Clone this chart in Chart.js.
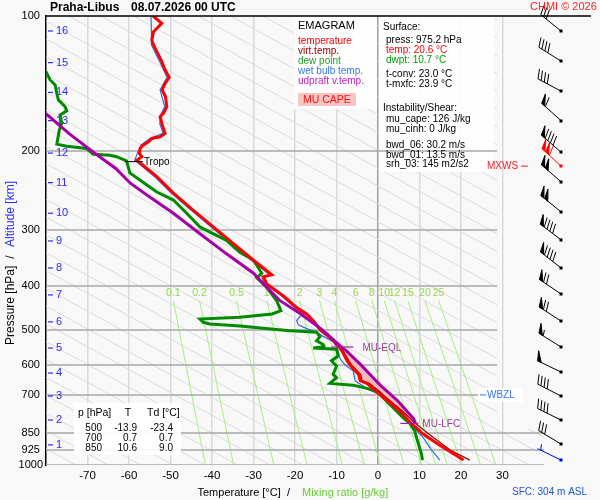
<!DOCTYPE html>
<html>
<head>
<meta charset="utf-8">
<script src="https://cdn.jsdelivr.net/npm/chart.js@4.4.1/dist/chart.umd.min.js"></script>
<style>
  html, body { margin: 0; padding: 0; background: #f8f8f8; }
  #c { display: block; }
</style>
</head>
<body>
<canvas id="c" width="600" height="500"></canvas>
<script>
// Axis ticks
const pressureTicks = [100, 200, 300, 400, 500, 600, 700, 850, 925, 1000];
const altKm = [1, 2, 3, 4, 5, 6, 7, 8, 9, 10, 11, 12, 13, 14, 15, 16];
const altP = [902, 794, 702, 624, 549, 480, 418, 364, 317, 275, 235, 202, 171, 148, 127, 108];

// Temperature profile (hPa, °C)
const tempP = [975.2, 905, 850, 840, 803, 759, 700, 686, 658, 649, 628, 600, 584, 557, 545, 530, 515, 500, 477, 461, 446, 420, 395, 381, 377, 350, 321, 295, 271, 248, 228, 218.6, 209.5, 205.8, 202.3, 197.3, 193.9, 190.6, 187.4, 185.8, 182.6, 173.5, 167.6, 164.8, 159.2, 151.3, 146.1, 141.2, 137, 131.9, 126.4, 122.1, 116, 113.1, 108.4, 103.8, 100];
const tempT = [20.6, 15.0, 10.6, 10.1, 7.7, 5.3, 0.7, -0.3, -2.7, -4.3, -4.7, -6.7, -7.5, -8.7, -9.4, -10.6, -12.2, -13.9, -15.6, -17.2, -19.6, -22.8, -26.8, -27.6, -25.6, -30.0, -34.9, -39.7, -44.5, -49.3, -53.3, -55.7, -58.1, -56.9, -57.5, -57.3, -56.6, -55.3, -54.5, -52.5, -51.3, -52.1, -52.5, -51.7, -50.9, -51.2, -52.0, -51.3, -50.3, -51.3, -52.1, -52.9, -54.1, -54.5, -54.1, -52.1, -54.2];

// Virtual temperature
const virtP = [975.2, 925, 850, 803, 760, 700, 686, 658, 649, 628, 600, 584, 557, 545, 530, 515, 500, 477, 461, 446, 420, 395, 381, 377, 350];
const virtT = [22.1, 17.3, 12.0, 8.7, 6.0, 1.4, 0.4, -2.1, -3.8, -4.2, -6.3, -7.1, -8.4, -9.1, -10.3, -12.0, -13.7, -15.4, -17.0, -19.4, -22.7, -26.7, -27.5, -25.5, -29.95];

// Dew point
const dewP = [975.2, 947, 895, 850, 841, 808, 785, 740, 700, 685, 675, 664, 658, 639, 628, 602, 586, 572, 552, 549, 545, 539, 529, 518, 506, 502, 490, 485, 481, 473, 469, 461, 453, 431, 402, 383, 374, 350, 336, 316, 303, 295, 275, 257, 246.6, 238, 223.6, 216.6, 210.3, 205.8, 204.2, 203.3, 197.3, 195, 192.9, 184.2, 179.5, 173.5, 166.2, 162.6, 159.2, 153.9, 148.7, 142.5, 138.8, 133];
const dewT = [10.7, 10.5, 9.7, 9.0, 8.9, 7.7, 6.1, 3.3, 0.7, -0.3, -2.7, -6.0, -11.6, -10.0, -10.8, -10.0, -11.2, -9.6, -10.0, -15.6, -13.0, -13.2, -14.8, -14.0, -14.8, -22.0, -33.3, -40.5, -42.1, -42.9, -33.3, -25.5, -23.4, -24.4, -26.8, -29.2, -28.0, -30.0, -33.3, -36.5, -40.5, -42.9, -46.1, -49.3, -53.3, -55.7, -59.8, -60.2, -60.6, -63.0, -64.6, -68.6, -70.2, -75.0, -77.4, -77.0, -76.8, -76.2, -76.6, -75.0, -75.4, -77.0, -77.4, -77.8, -79.0, -80.0];

// Wet bulb temperature
const wetP = [975.2, 925, 869, 830, 808, 760, 700, 675, 650, 617, 598, 578, 557, 546, 530, 517, 506, 497, 487, 477, 467, 461, 446, 420, 395, 381, 377, 350, 321, 295, 271, 248, 228, 218.6, 209.5, 202.3, 193.9, 187.4, 182.6, 173.5, 164.8, 159.2, 146.1, 137, 126.4, 116, 108.4, 100];
const wetT = [14.9, 12.9, 10.9, 8.9, 7.7, 4.8, 0.7, -2.7, -5.5, -6.0, -8.0, -9.2, -9.6, -9.9, -11.0, -13.2, -14.8, -17.2, -19.2, -19.6, -18.8, -17.7, -20.1, -23.3, -27.3, -28.0, -26.1, -30.5, -35.4, -40.2, -45.0, -49.8, -53.8, -56.2, -58.6, -58.0, -57.1, -55.0, -51.8, -52.6, -52.2, -51.4, -52.5, -50.8, -52.6, -54.6, -54.6, -54.7];

// Most-unstable parcel (updraft virtual temperature), LFC upward
const parcelP = [808, 789, 720, 665, 600, 557, 546, 500, 461, 430.6, 402, 374, 338.6, 305.5, 275, 253, 236, 218.6, 199, 182.6, 165];
const parcelT = [9.0, 8.6, 4.8, 0.6, -4.0, -7.6, -8.8, -13.4, -18.6, -23.6, -26.8, -30.0, -36.5, -42.9, -49.3, -55.0, -59.6, -63.2, -69.2, -74.5, -80.0];

// Special levels
const tropoP = 211;
const eqlP = 546;
const lfcP = 808;
const mxwsP = 216;
const wbzlP = 698;

// Mixing ratio lines (g/kg), temperature at 430 hPa and at 1000 hPa
const mixRatios = ['0.1', '0.2', '0.5', '1', '2', '3', '4', '6', '8', '10', '12', '15', '20', '25'];
const mixT430 = [-49.3, -43.0, -34.1, -26.8, -18.9, -14.1, -10.5, -5.4, -1.5, 1.5, 4.0, 7.2, 11.3, 14.6];
const mixT1000 = [-41.6, -34.8, -25.1, -17.1, -8.6, -3.3, 0.6, 6.3, 10.5, 13.9, 16.7, 20.1, 24.7, 28.4];

// Background diagonals: spacing and slope (°C per pressure decade)
const diagSpacing = 7.8;
const diagSlope = 196.7;
const diagRef = 5.2;

// Winds
const windP = [108, 126, 147, 171, 201, 216, 234, 273, 315, 364, 416, 478, 546, 621, 702, 794, 898, 975];
const windDir = [309, 302, 298, 312, 311, 313, 311, 309, 307, 308, 304, 303, 302, 296, 297, 296, 301, 296];
const windSpd = [30, 40, 40, 60, 90, 110, 100, 100, 90, 90, 70, 70, 55, 50, 40, 40, 30, 5];

// Table of standard levels
const tableP = ['500', '700', '850'];
const tableT = ['-13.9', '0.7', '10.6'];
const tableTd = ['-23.4', '0.7', '9.0'];

const FONT = '"Liberation Sans", Arial, sans-serif';

function toPoints(P, T) {
  return P.map((p, i) => ({ x: T[i], y: p }));
}

// CAPE area: parcel from LFC to EQL, back down along the virtual temperature
function capePoints() {
  const up = [];
  parcelP.forEach((p, i) => { if (p <= lfcP && p >= eqlP) up.push({ x: parcelT[i], y: p }); });
  const down = [];
  virtP.forEach((p, i) => { if (p <= lfcP && p >= eqlP - 1) down.push({ x: virtT[i], y: p }); });
  down.reverse();
  return up.concat(down);
}

function drawBarb(ctx, x0, y0, dir, spd, color) {
  const r = dir * Math.PI / 180;
  const ux = Math.sin(r), uy = -Math.cos(r);
  const L = 26;
  const tx = x0 + ux * L, ty = y0 + uy * L;
  const px = -uy, py = ux;
  const a = 20 * Math.PI / 180;
  const bx = px * Math.cos(a) + ux * Math.sin(a);
  const by = py * Math.cos(a) + uy * Math.sin(a);
  ctx.save();
  ctx.strokeStyle = color; ctx.fillStyle = color; ctx.lineWidth = 1;
  ctx.beginPath(); ctx.moveTo(x0, y0); ctx.lineTo(tx, ty); ctx.stroke();
  ctx.fillRect(Math.round(x0) - 1.5, Math.round(y0) - 1.5, 3, 3);
  let s = 0;
  const flags = Math.floor(spd / 50);
  const full = Math.floor((spd % 50) / 10);
  const half = (spd % 10) >= 5;
  for (let i = 0; i < flags; i++) {
    const ax = tx - ux * s, ay = ty - uy * s;
    const cx = tx - ux * (s + 4), cy = ty - uy * (s + 4);
    ctx.beginPath();
    ctx.moveTo(ax, ay);
    ctx.lineTo(ax + bx * 10, ay + by * 10);
    ctx.lineTo(cx, cy);
    ctx.closePath(); ctx.fill(); ctx.stroke();
    s += 5;
  }
  for (let i = 0; i < full; i++) {
    const ax = tx - ux * s, ay = ty - uy * s;
    ctx.beginPath(); ctx.moveTo(ax, ay); ctx.lineTo(ax + bx * 10, ay + by * 10); ctx.stroke();
    s += 3.5;
  }
  if (half) {
    if (s === 0) s = 3.5;
    const ax = tx - ux * s, ay = ty - uy * s;
    ctx.beginPath(); ctx.moveTo(ax, ay); ctx.lineTo(ax + bx * 6, ay + by * 6); ctx.stroke();
  }
  ctx.restore();
}

function txt(ctx, s, x, y, color, size, opts) {
  opts = opts || {};
  ctx.font = (opts.bold ? 'bold ' : '') + size + 'px ' + FONT;
  ctx.fillStyle = color;
  ctx.textAlign = opts.align || 'left';
  ctx.textBaseline = 'middle';
  ctx.fillText(s, x, y);
}

function clipPlot(ctx, chart) {
  const a = chart.chartArea, x = chart.scales.x, y = chart.scales.y;
  const xCut = x.getPixelForValue(28.7), yStep = y.getPixelForValue(830);
  ctx.beginPath();
  ctx.moveTo(a.left, a.top);
  ctx.lineTo(xCut, a.top);
  ctx.lineTo(xCut, yStep);
  ctx.lineTo(a.right, yStep);
  ctx.lineTo(a.right, a.bottom);
  ctx.lineTo(a.left, a.bottom);
  ctx.closePath();
  ctx.clip();
}

const emagramPlugin = {
  id: 'emagram',
  beforeDraw(chart) {
    const ctx = chart.ctx;
    ctx.save();
    ctx.fillStyle = '#f8f8f8';
    ctx.fillRect(0, 0, chart.width, chart.height);
    ctx.restore();
  },
  beforeDatasetsDraw(chart) {
    const ctx = chart.ctx, a = chart.chartArea, x = chart.scales.x, y = chart.scales.y;

    // diagonals and mixing ratio lines
    ctx.save();
    clipPlot(ctx, chart);
    ctx.strokeStyle = '#dcdcdc'; ctx.lineWidth = 1;
    for (let k = -12; k <= 30; k++) {
      const t0 = diagRef + k * diagSpacing;
      ctx.beginPath();
      ctx.moveTo(x.getPixelForValue(t0), y.getPixelForValue(1000));
      ctx.lineTo(x.getPixelForValue(t0 - diagSlope), y.getPixelForValue(100));
      ctx.stroke();
    }
    ctx.strokeStyle = '#a6f07e';
    mixRatios.forEach((m, i) => {
      ctx.beginPath();
      ctx.moveTo(x.getPixelForValue(mixT430[i]), y.getPixelForValue(430));
      ctx.lineTo(x.getPixelForValue(mixT1000[i]), y.getPixelForValue(1000));
      ctx.stroke();
    });
    ctx.restore();

    // info boxes (under the pressure lines)
    ctx.save();
    ctx.fillStyle = 'rgba(255,255,255,0.85)';
    ctx.fillRect(294, a.top + 1, 83, 92);
    ctx.fillRect(x.getPixelForValue(0) + 1, a.top + 1, 115, 155);
    ctx.restore();

    // pressure lines
    ctx.save();
    clipPlot(ctx, chart);
    ctx.strokeStyle = '#a8a8a8'; ctx.lineWidth = 1.5;
    pressureTicks.forEach(p => {
      if (p === 100) return;
      const py = Math.round(y.getPixelForValue(p));
      ctx.beginPath(); ctx.moveTo(a.left, py); ctx.lineTo(a.right, py); ctx.stroke();
    });
    ctx.restore();

    // standard level table box
    ctx.save();
    ctx.fillStyle = 'rgba(255,255,255,0.92)';
    ctx.fillRect(74, 403, 107, 52);
    ctx.restore();

    // mixing ratio labels
    ctx.save();
    mixRatios.forEach((m, i) => {
      txt(ctx, m, x.getPixelForValue(mixT430[i]), y.getPixelForValue(415), '#96d84c', 10.5, { align: 'center' });
    });
    ctx.restore();

    // altitude ticks
    ctx.save();
    ctx.strokeStyle = '#2a2aff'; ctx.lineWidth = 1.2;
    altKm.forEach((k, i) => {
      const py = y.getPixelForValue(altP[i]);
      ctx.beginPath(); ctx.moveTo(a.left + 2, py); ctx.lineTo(a.left + 7, py); ctx.stroke();
      txt(ctx, String(k), a.left + 10, py, '#2a2aff', 11);
    });
    ctx.restore();

    // CAPE area, from the point elements of the CAPE dataset
    const capeMeta = chart.getDatasetMeta(0);
    if (capeMeta && capeMeta.data.length) {
      ctx.save();
      ctx.beginPath();
      capeMeta.data.forEach((pt, i) => { if (i === 0) ctx.moveTo(pt.x, pt.y); else ctx.lineTo(pt.x, pt.y); });
      ctx.closePath();
      ctx.fillStyle = '#f6bcbc';
      ctx.fill();
      ctx.restore();
    }
  },
  afterDatasetsDraw(chart) {
    const ctx = chart.ctx, a = chart.chartArea, x = chart.scales.x, y = chart.scales.y;
    ctx.save();

    // top border
    ctx.strokeStyle = '#000'; ctx.lineWidth = 1.5;
    ctx.beginPath(); ctx.moveTo(a.left, a.top); ctx.lineTo(591, a.top); ctx.stroke();

    // tropopause
    const ty = y.getPixelForValue(tropoP);
    const tx = x.getPixelForValue(-58.1);
    ctx.strokeStyle = '#000'; ctx.lineWidth = 1;
    ctx.beginPath(); ctx.moveTo(tx - 12, ty); ctx.lineTo(tx + 6, ty); ctx.stroke();
    txt(ctx, 'Tropo', tx + 7, ty + 1, '#000', 10);

    // EQL / LFC markers
    ctx.strokeStyle = '#a020a0'; ctx.lineWidth = 1.2;
    const ey = y.getPixelForValue(eqlP), ex = x.getPixelForValue(-8.8);
    ctx.beginPath(); ctx.moveTo(ex - 10, ey); ctx.lineTo(ex + 12, ey); ctx.stroke();
    txt(ctx, 'MU-EQL', ex + 21, ey + 1, '#9a3d9a', 10);
    const ly = y.getPixelForValue(lfcP), lx = x.getPixelForValue(9.0);
    ctx.beginPath(); ctx.moveTo(lx - 15, ly); ctx.lineTo(lx + 3, ly); ctx.stroke();
    txt(ctx, 'MU-LFC', lx + 7, ly + 1, '#9a3d9a', 10);

    // MXWS / WBZL
    const my = y.getPixelForValue(mxwsP);
    txt(ctx, 'MXWS', 487, my, '#ff2020', 10);
    ctx.strokeStyle = '#ff2020'; ctx.lineWidth = 1;
    ctx.beginPath(); ctx.moveTo(521, my); ctx.lineTo(528, my); ctx.stroke();
    const wy = y.getPixelForValue(wbzlP);
    ctx.fillStyle = 'rgba(255,255,255,0.95)';
    ctx.fillRect(478, wy - 7, 45, 14);
    ctx.strokeStyle = '#3377ee';
    ctx.beginPath(); ctx.moveTo(480, wy); ctx.lineTo(486, wy); ctx.stroke();
    txt(ctx, 'WBZL', 487, wy, '#3377ee', 10);

    // wind barbs
    windP.forEach((p, i) => {
      let col = '#000';
      if (p === mxwsP) col = '#ff0000';
      if (i === windP.length - 1) col = '#0000ee';
      drawBarb(ctx, 561, y.getPixelForValue(p), windDir[i], windSpd[i], col);
    });

    ctx.restore();
  },
  afterDraw(chart) {
    const ctx = chart.ctx;
    ctx.save();
    // title
    txt(ctx, 'Praha-Libus', 50, 7.5, '#000', 12, { bold: true });
    txt(ctx, '08.07.2026 00 UTC', 131, 7.5, '#000', 12, { bold: true });
    txt(ctx, 'CHMI © 2026', 530, 7, '#ff2020', 11);

    // legend
    txt(ctx, 'EMAGRAM', 298, 26, '#000', 11);
    txt(ctx, 'temperature', 298, 41.7, '#ff0000', 10);
    txt(ctx, 'virt.temp.', 298, 51.7, '#a00000', 10);
    txt(ctx, 'dew point', 298, 61.7, '#22a022', 10);
    txt(ctx, 'wet bulb temp.', 298, 71.7, '#3377ee', 10);
    txt(ctx, 'udpraft v.temp.', 298, 81.7, '#c020c0', 10);
    ctx.fillStyle = '#f8c4c4';
    ctx.fillRect(298, 93, 58, 13);
    txt(ctx, 'MU CAPE', 303, 100, '#ff1010', 10.5);

    // surface info
    txt(ctx, 'Surface:', 383, 27.3, '#000', 10);
    txt(ctx, 'press: 975.2 hPa', 386, 40, '#000', 10);
    txt(ctx, 'temp: 20.6 °C', 386, 50, '#ff0000', 10);
    txt(ctx, 'dwpt: 10.7 °C', 386, 60, '#00a000', 10);
    txt(ctx, 't-conv: 23.0 °C', 386, 74.7, '#000', 10);
    txt(ctx, 't-mxfc: 23.9 °C', 386, 84.3, '#000', 10);
    txt(ctx, 'Instability/Shear:', 383, 108, '#000', 10);
    txt(ctx, 'mu_cape: 126 J/kg', 386, 119.7, '#000', 10);
    txt(ctx, 'mu_cinh: 0 J/kg', 386, 129.7, '#000', 10);
    txt(ctx, 'bwd_06: 30.2 m/s', 386, 145, '#000', 10);
    txt(ctx, 'bwd_01: 13.5 m/s', 386, 155, '#000', 10);
    txt(ctx, 'srh_03: 145 m2/s2', 386, 164.7, '#000', 10);

    // table
    txt(ctx, 'p [hPa]', 78, 413.5, '#000', 10.5);
    txt(ctx, 'T', 128, 413.5, '#000', 10.5, { align: 'center' });
    txt(ctx, 'Td [°C]', 147, 413.5, '#000', 10.5);
    tableP.forEach((p, i) => {
      const ry = 428.3 + i * 10;
      txt(ctx, p, 102, ry, '#000', 10, { align: 'right' });
      txt(ctx, tableT[i], 137, ry, '#000', 10, { align: 'right' });
      txt(ctx, tableTd[i], 173, ry, '#000', 10, { align: 'right' });
    });

    // axis titles
    txt(ctx, 'Temperature [°C]', 197.5, 493, '#000', 11);
    txt(ctx, '/', 288.5, 493, '#000', 11, { align: 'center' });
    txt(ctx, 'Mixing ratio [g/kg]', 302, 493, '#66cc33', 11);
    txt(ctx, 'SFC: 304 m ASL', 512, 492, '#2255dd', 10);

    ctx.translate(11, 0);
    ctx.rotate(-Math.PI / 2);
    txt(ctx, 'Pressure [hPa]', -345, 0, '#000', 12);
    txt(ctx, '/', -257, 0, '#000', 12, { align: 'center' });
    txt(ctx, 'Altitude [km]', -247, 0, '#2a2aff', 12);
    ctx.restore();
  }
};

const lineDefaults = { showLine: true, pointRadius: 0, pointHoverRadius: 0, tension: 0, fill: false };

new Chart(document.getElementById('c'), {
  type: 'scatter',
  data: {
    datasets: [
      { label: 'MU CAPE', data: capePoints(), showLine: false, pointRadius: 0, pointHoverRadius: 0, order: 6 },
      Object.assign({}, lineDefaults, { label: 'wet bulb temp.', data: toPoints(wetP, wetT), borderColor: '#2f6fe8', borderWidth: 1.2, order: 5 }),
      Object.assign({}, lineDefaults, { label: 'virt.temp.', data: toPoints(virtP, virtT), borderColor: '#990000', borderWidth: 1.2, order: 4 }),
      Object.assign({}, lineDefaults, { label: 'dew point', data: toPoints(dewP, dewT), borderColor: '#008a00', borderWidth: 3, order: 3 }),
      Object.assign({}, lineDefaults, { label: 'temperature', data: toPoints(tempP, tempT), borderColor: '#ff0000', borderWidth: 3, order: 2 }),
      Object.assign({}, lineDefaults, { label: 'udpraft v.temp.', data: toPoints(parcelP, parcelT), borderColor: '#a400a4', borderWidth: 3, order: 1 })
    ]
  },
  options: {
    responsive: false,
    animation: false,
    devicePixelRatio: 1,
    layout: { padding: { top: 16, right: 56, left: 0, bottom: 0 } },
    plugins: { legend: { display: false }, tooltip: { enabled: false } },
    scales: {
      x: {
        type: 'linear', min: -80, max: 40,
        afterFit: s => { s.height = 35; },
        ticks: {
          stepSize: 10, autoSkip: false, maxRotation: 0, padding: 4,
          color: '#000', font: { family: FONT, size: 11.5 },
          callback: v => (v === -80 || v === 40) ? '' : String(v)
        },
        grid: {
          drawTicks: false, lineWidth: 1.5,
          color: c => c.tick && c.tick.value === 0 ? '#a0a0a0' :
            (c.tick && (c.tick.value === -80 || c.tick.value === 40) ? 'rgba(0,0,0,0)' : '#dadada')
        },
        border: { display: false }
      },
      y: {
        type: 'logarithmic', min: 100, max: 1000, reverse: true,
        afterFit: s => { s.width = 46; },
        afterBuildTicks: s => { s.ticks = pressureTicks.map(v => ({ value: v })); },
        ticks: {
          crossAlign: 'center', padding: 3,
          color: '#000', font: { family: FONT, size: 11 },
          callback: v => String(v)
        },
        grid: { display: false, drawTicks: false },
        border: { display: true, color: '#000', width: 1.5 }
      }
    }
  },
  plugins: [emagramPlugin]
});
</script>
</body>
</html>
